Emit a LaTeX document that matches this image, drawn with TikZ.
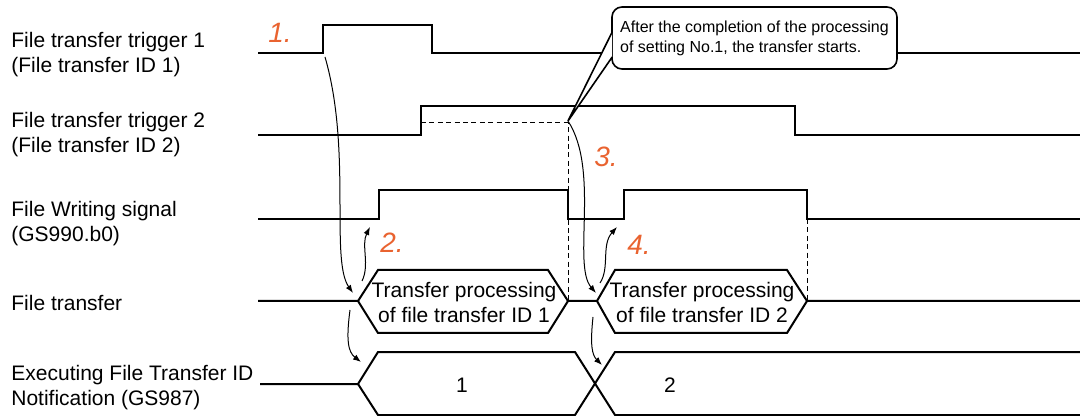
\documentclass[tikz,border=0pt]{standalone}
\usepackage{fontspec}
\setmainfont{Liberation Sans}
\usetikzlibrary{arrows.meta,calc}
\definecolor{stepnum}{RGB}{233,99,48}

\begin{document}
\begin{tikzpicture}[x=0.5pt, y=-0.5pt, >={Latex[length=4pt,width=3pt]},
  wave/.style={line width=1pt},
  guide/.style={dash pattern=on 2.5pt off 1.7pt, line width=0.5pt},
  cause/.style={->, line width=0.5pt},
  signame/.style={anchor=west, align=left, inner sep=0pt, font=\fontsize{10.5}{12.5}\selectfont},
  busval/.style={align=center, inner sep=0pt, font=\fontsize{10.5}{12.5}\selectfont},
  num/.style={text=stepnum, font=\fontsize{14}{16}\selectfont\itshape},
  note/.style={draw, line width=0.8pt, rounded corners=5pt, fill=white, align=left,
    minimum width=142.5pt, minimum height=31pt, inner sep=0pt, font=\fontsize{8}{10}\selectfont}]

  \useasboundingbox (0,0) rectangle (1080,416);

  % signal names
  \node[signame] (L1) at (11,55)  {File transfer trigger 1\\(File transfer ID 1)};
  \node[signame] (L2) at (11,135) {File transfer trigger 2\\(File transfer ID 2)};
  \node[signame] (L3) at (11,224) {File Writing signal\\(GS990.b0)};
  \node[signame] (L4) at (11,303) {File transfer};
  \node[signame] (L5) at (11,388) {Executing File Transfer ID\\Notification (GS987)};

  % waveforms
  \draw[wave] (258,53) -- (323,53) -- (323,25) -- (432,25) -- (432,53) -- (1080,53);
  \draw[wave] (258,135) -- (421,135) -- (421,106) -- (795,106) -- (795,135) -- (1080,135);
  \draw[wave] (258,219) -- (379,219) -- (379,190) -- (568,190) -- (568,219)
    -- (624,219) -- (624,190) -- (807,190) -- (807,219) -- (1080,219);
  \draw[wave] (258,301) -- (358,301) -- (378,270) -- (548,270) -- (568,301)
    -- (597,301) -- (615,270) -- (787,270) -- (807,301) -- (1080,301);
  \draw[wave] (358,301) -- (378,333) -- (548,333) -- (568,301);
  \draw[wave] (597,301) -- (615,333) -- (787,333) -- (807,301);
  \node[busval] (P1) at (464,302) {Transfer processing\\of file transfer ID 1};
  \node[busval] (P2) at (702,302) {Transfer processing\\of file transfer ID 2};
  \draw[wave] (260,384) -- (358,384) -- (378,352) -- (575,352) -- (615,415) -- (1080,415);
  \draw[wave] (358,384) -- (378,415) -- (575,415) -- (615,352) -- (1080,352);
  \node[busval] (N1) at (462,385) {1};
  \node[busval] (N2) at (670,385) {2};

  % guides
  \draw[guide] (421,123) -- (568,123) -- (568,301);
  \draw[guide] (807,219) -- (807,301);

  % points the arrows run between
  \coordinate (trg1) at (325,57);
  \coordinate (tip)  at (568,121);
  \coordinate (xf1)  at (353,293);
  \coordinate (xf1a) at (362,281);
  \coordinate (xf1b) at (350,310);
  \coordinate (wr1)  at (370,227);
  \coordinate (id1)  at (361,362);
  \coordinate (xf2)  at (596,293);
  \coordinate (xf2a) at (600,283);
  \coordinate (xf2b) at (593,317);
  \coordinate (wr2)  at (617,227);
  \coordinate (id2)  at (602,365);

  \draw[cause] (trg1) .. controls (352,150) and (330,260) .. (xf1);
  \draw[cause] (xf1a) .. controls (370,265) and (361,245) .. (wr1);
  \draw[cause] (xf1b) .. controls (346,340) and (348,352) .. (id1);
  \draw[cause] (tip) .. controls (600,170) and (572,265) .. (xf2);
  \draw[cause] (xf2a) .. controls (610,268) and (601,245) .. (wr2);
  \draw[cause] (xf2b) .. controls (590,345) and (592,355) .. (id2);

  % callout
  \node[note] (callout) at (754.5,38) {After the completion of the processing\\of setting No.1, the transfer starts.};
  \filldraw[fill=white, line width=0.8pt] ($(callout.west)+(1,-6)$) -- (tip) -- ($(callout.west)+(1,19)$);

  % step numbers
  \node[num] (n1) at (280,33)  {1.};
  \node[num] (n2) at (392,243) {2.};
  \node[num] (n3) at (606,157) {3.};
  \node[num] (n4) at (639,245) {4.};
\end{tikzpicture}
\end{document}
